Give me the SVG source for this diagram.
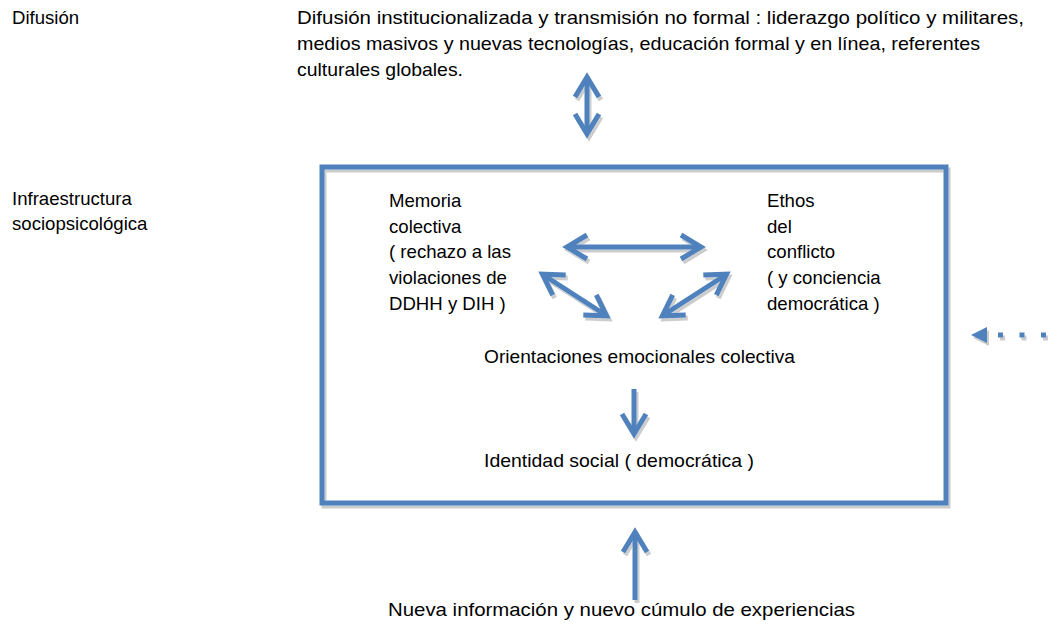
<svg xmlns="http://www.w3.org/2000/svg" width="1060" height="627" viewBox="0 0 1060 627">
<style>
text{font-family:"Liberation Sans",Arial,sans-serif;font-size:18.6px;fill:#000}
.ln{fill:none;stroke:#4F81BD;stroke-width:5}
.hd{fill:none;stroke:#4F81BD;stroke-width:5;stroke-linejoin:miter;stroke-linecap:butt}
</style>
<defs>
<filter id="sh" filterUnits="userSpaceOnUse" x="0" y="0" width="1060" height="627">
<feOffset in="SourceAlpha" dx="2" dy="3" result="o"/>
<feFlood flood-color="#000" flood-opacity="0.2"/>
<feComposite in2="o" operator="in"/>
<feMerge><feMergeNode/><feMergeNode in="SourceGraphic"/></feMerge>
</filter>
</defs>
<rect width="1060" height="627" fill="#fff"/>
<g id="labels">
<text x="12" y="24">Difusión</text>
<text x="12" y="205">Infraestructura</text>
<text x="12" y="230">sociopsicológica</text>
</g>
<g id="difusion">
<text x="297" y="24" textLength="727" lengthAdjust="spacingAndGlyphs">Difusión institucionalizada y transmisión no formal : liderazgo político y militares,</text>
<text x="297" y="50" textLength="683" lengthAdjust="spacingAndGlyphs">medios masivos y nuevas tecnologías, educación formal y en línea, referentes</text>
<text x="297" y="76" textLength="166" lengthAdjust="spacingAndGlyphs">culturales globales.</text>
</g>
<g id="infraestructura" filter="url(#sh)">
<rect x="322" y="167" width="624" height="336" class="ln"/>
</g>
<g id="memoria">
<text x="389" y="207">Memoria</text>
<text x="389" y="233">colectiva</text>
<text x="389" y="258">( rechazo a las</text>
<text x="389" y="284">violaciones de</text>
<text x="389" y="310">DDHH y DIH )</text>
</g>
<g id="ethos">
<text x="767" y="207">Ethos</text>
<text x="767" y="233">del</text>
<text x="767" y="258">conflicto</text>
<text x="767" y="284">( y conciencia</text>
<text x="767" y="310">democrática )</text>
</g>
<g id="orientaciones">
<text x="484" y="363" textLength="311" lengthAdjust="spacingAndGlyphs">Orientaciones emocionales colectiva</text>
</g>
<g id="identidad">
<text x="484" y="467" textLength="270" lengthAdjust="spacingAndGlyphs">Identidad social ( democrática )</text>
</g>
<g id="nueva">
<text x="388" y="616" textLength="467" lengthAdjust="spacingAndGlyphs">Nueva información y nuevo cúmulo de experiencias</text>
</g>
<g id="connectors" filter="url(#sh)">
<line x1="587" y1="80" x2="587" y2="131" class="ln"/>
<polyline points="575,97 587,77 599,97" class="hd"/>
<polyline points="575,114 587,134 599,114" class="hd"/>
<line x1="570" y1="247" x2="698" y2="247" class="ln"/>
<polyline points="587,235 567,247 587,259" class="hd"/>
<polyline points="681,235 701,247 681,259" class="hd"/>
<line x1="545" y1="276" x2="604" y2="314" class="ln"/>
<polyline points="552.7,295.2 542.4,274.2 565.7,275.0" class="hd"/>
<polyline points="583.3,315.0 606.6,315.8 596.3,294.8" class="hd"/>
<line x1="665" y1="314" x2="724" y2="276" class="ln"/>
<polyline points="685.7,315.0 662.4,315.8 672.7,294.8" class="hd"/>
<polyline points="716.3,295.2 726.6,274.2 703.3,275.0" class="hd"/>
<line x1="634" y1="389" x2="634" y2="431" class="ln"/>
<polyline points="622,414 634,434 646,414" class="hd"/>
<line x1="635" y1="600" x2="635" y2="535" class="ln"/>
<polyline points="623,552 635,532 647,552" class="hd"/>
<polygon points="971,335 987,327 987,343" fill="#4F81BD"/>
<line x1="998" y1="335" x2="1050" y2="335" class="ln" stroke-dasharray="5 16.5"/>
</g>
</svg>
